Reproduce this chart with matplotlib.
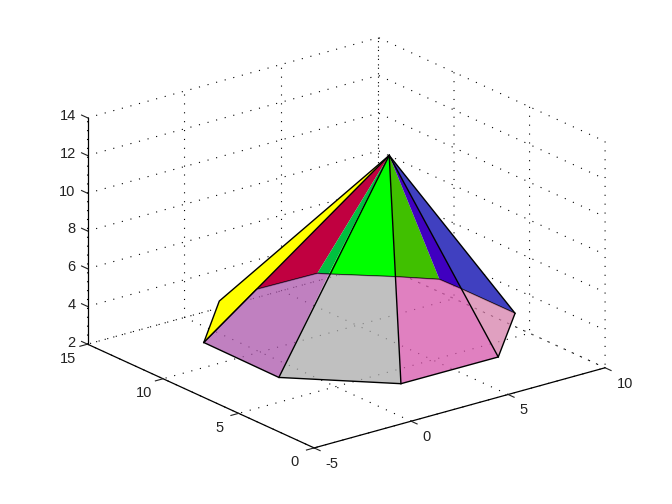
import numpy as np
import matplotlib
matplotlib.use("Agg")
import matplotlib.pyplot as plt
from matplotlib.transforms import Affine2D
from mpl_toolkits.mplot3d.art3d import Poly3DCollection

plt.rcParams['font.family'] = ['Liberation Sans', 'DejaVu Sans']

x_ticks = [-5, 0, 5, 10]
y_ticks = [0, 5, 10, 15]
z_ticks = [2, 4, 6, 8, 10, 12, 14]

apex = (4.72, 7.51, 12.0)
# lower ring
A = (-1.14, 12.26, 2.0)
E = (-1.18, 7.24, 2.0)
D = (2.31, 3.64, 2.0)
C = (7.32, 3.63, 2.0)
# upper ring
Y = (-0.38, 12.21, 4.0)
P1 = (1.64, 12.34, 4.0)
P2 = (4.72, 12.27, 4.0)
P3 = (5.04, 11.92, 4.0)
P4 = (7.00, 10.03, 4.0)
P5 = (8.23, 8.69, 4.0)
P6 = (8.27, 7.27, 4.0)
B = (8.28, 3.75, 4.0)

back_faces = [
    ([apex, A, Y], '#ffff00'),
    ([apex, P1, P2], '#c00040'),
    ([apex, P2, P3], '#00c040'),
    ([apex, P3, P4], '#00ff00'),
    ([apex, P4, P5], '#40c000'),
    ([apex, P5, P6], '#4000c0'),
    ([apex, P6, B], '#4040c0'),
]
ALPHA = 0.75
front_faces = [
    ([A, E, P3, P2, P1], (171/255, 86/255, 171/255, ALPHA)),
    ([E, D, P4, P3], (171/255, 171/255, 171/255, ALPHA)),
    ([D, C, P6, P5, P4], (214/255, 86/255, 171/255, ALPHA)),
    ([C, B, P6], (214/255, 128/255, 171/255, ALPHA)),
]
ring_line = [A, P1, P2, P3, P4, P5, P6, B]
outer_line = [apex, Y, A, E, D, C, B, apex]
spokes = [A, E, D, C]

fig = plt.figure(figsize=(6.72, 5.04), dpi=100, facecolor='white')
cx, cy = 339.5, 249.6
ax = fig.add_axes([(cx - 252) / 672, (504 - cy - 252) / 504, 504 / 672, 1.0],
                  projection='3d', proj_type='ortho', computed_zorder=False)
ax.patch.set_alpha(0)
ax.view_init(elev=20.8, azim=-127.8)
ax.set_xlim(x_ticks[0], x_ticks[-1], view_margin=0)
ax.set_ylim(y_ticks[0], y_ticks[-1], view_margin=0)
ax.set_zlim(z_ticks[0], z_ticks[-1], view_margin=0)
ax.set_box_aspect((369.5, 371, 243), zoom=1.108)

ax.set_xticks(x_ticks)
ax.set_yticks(y_ticks)
ax.set_zticks(z_ticks)
ax.set_xticklabels([str(v) for v in x_ticks])
ax.set_yticklabels([str(v) for v in y_ticks])
ax.set_zticklabels([str(v) for v in z_ticks])
ax.tick_params(labelsize=10.5, colors='#222222', pad=0)


def shift_labels(axis, dx, dy, ha):
    orig = axis.get_major_ticks

    def patched(numticks=None):
        ticks = orig(numticks)
        for t in ticks:
            t.label1.set_transform(ax.transData + Affine2D().translate(dx, dy))
            t.label1.set_ha(ha)
        return ticks
    axis.get_major_ticks = patched


shift_labels(ax.xaxis, 2, 5, 'left')
shift_labels(ax.yaxis, -7, 5.5, 'center')
shift_labels(ax.zaxis, 10, 7.5, 'right')

for axis in (ax.xaxis, ax.yaxis, ax.zaxis):
    axis.set_pane_color((1, 1, 1, 0))
    axis.pane.set_edgecolor((1, 1, 1, 0))
    axis.line.set_color('black')
    axis.line.set_linewidth(0.9)
    axis._axinfo['grid'].update(color='black', linestyle=(0, (1, 7)), linewidth=0.8)
    axis._axinfo['tick'].update(inward_factor=0.33, outward_factor=0.0,
                                linewidth={True: 0.8, False: 0.5})
# z ticks run along the y direction, pointing away from the box
ax.zaxis._get_tickdir = lambda pos: 1
ax.zaxis._axinfo['tick'].update(inward_factor=0.0, outward_factor=0.33)

z = 2
for verts, color in back_faces:
    ax.add_collection3d(Poly3DCollection([verts], facecolors=color, edgecolors='none',
                                         linewidths=0, zorder=z))
    z += 1
r = np.array(ring_line)
ax.plot(r[:, 0], r[:, 1], r[:, 2], color='black', lw=0.9, zorder=z)
z += 1
for verts, color in front_faces:
    ax.add_collection3d(Poly3DCollection([verts], facecolors=[color], edgecolors='none',
                                         linewidths=0, zorder=z))
    z += 1
o = np.array(outer_line)
ax.plot(o[:, 0], o[:, 1], o[:, 2], color='black', lw=1.0, zorder=z)
for pt in spokes:
    s = np.array([apex, pt])
    ax.plot(s[:, 0], s[:, 1], s[:, 2], color='black', lw=1.0, zorder=z)

fig.savefig('out.png', dpi=100)
